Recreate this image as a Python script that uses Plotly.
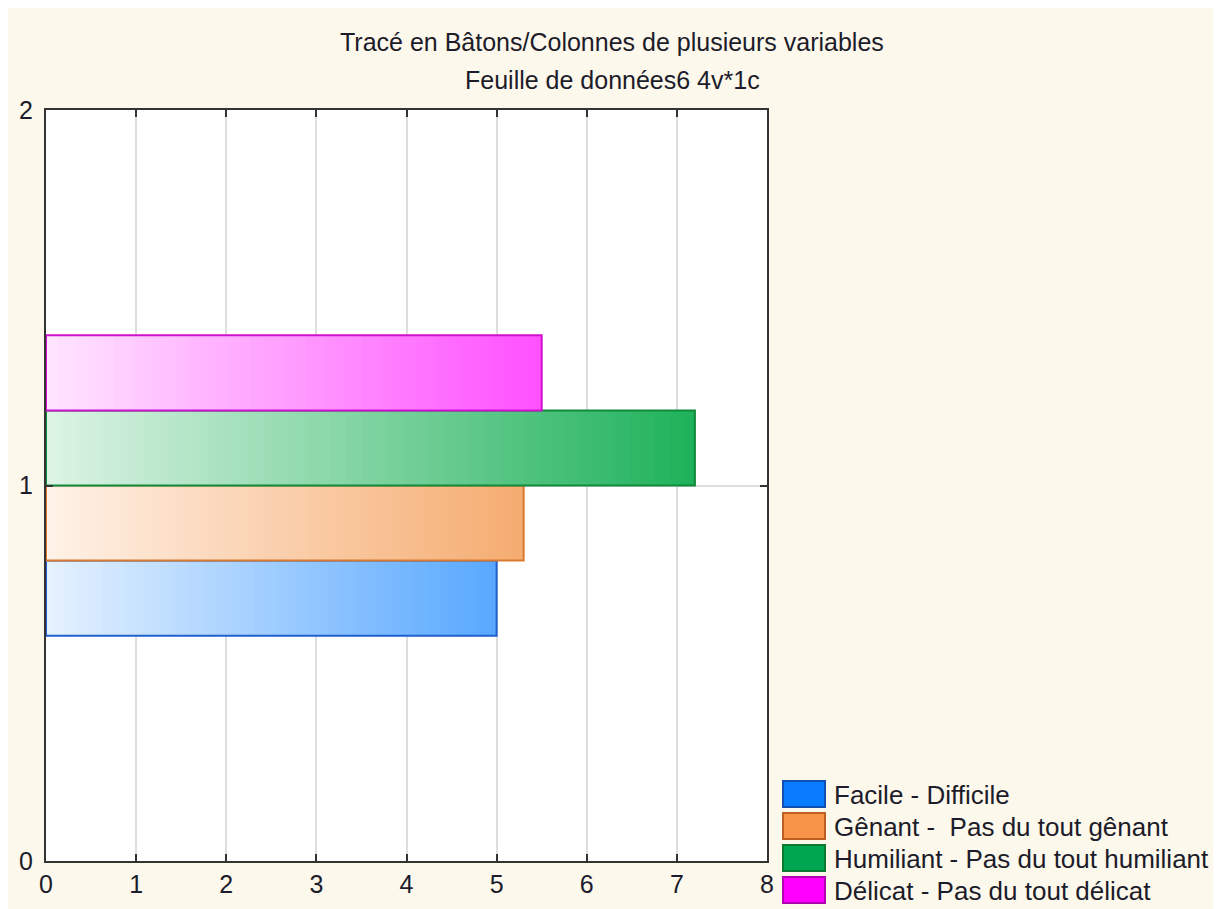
import plotly.graph_objects as go

# ---- data ----
series_names = ["Facile - Difficile", "Gênant -  Pas du tout gênant",
                "Humiliant - Pas du tout humiliant", "Délicat - Pas du tout délicat"]
series_values = [5.0, 5.3, 7.2, 5.5]
category = 1
x_ticks = [0, 1, 2, 3, 4, 5, 6, 7, 8]
y_ticks = [0, 1, 2]
title_lines = ["Tracé en Bâtons/Colonnes de plusieurs variables", "Feuille de données6 4v*1c"]

# ---- styles ----
grad_start = [(230, 242, 255), (255, 242, 232), (222, 244, 230), (255, 230, 255)]
grad_end = [(88, 168, 255), (245, 172, 112), (30, 178, 90), (255, 80, 255)]
outline = ["#1F5FD0", "#D87A30", "#108A3C", "#D010D0"]
legend_fill = ["#0A7CFF", "#F7944A", "#00A650", "#FF00FF"]
legend_line = ["#1050B0", "#C06020", "#0A7A30", "#B000B0"]
bar_w = 0.2
N = 80
BG = "#FDF8EC"
FONT = "Liberation Sans, Arial, sans-serif"
TXT = "#1C1C2A"
FS = 25
FS_LEG = 26

W, H = 1213, 901
OFF = 8  # page offset
L, R, T, B = 46 - OFF, 767 - OFF, 110 - OFF, 861 - OFF


def px(xi):
    return (xi - OFF - L) / (R - L)


def py(yi):
    return (B - (yi - OFF)) / (B - T)


fig = go.Figure()
for i, (name, v) in enumerate(zip(series_names, series_values)):
    yc = category + (i - 1.5) * bar_w
    seg = v / N
    cols = []
    for k in range(N):
        t = (k + 0.5) / N
        c = [round(grad_start[i][j] + (grad_end[i][j] - grad_start[i][j]) * t) for j in range(3)]
        cols.append(f"rgb({c[0]},{c[1]},{c[2]})")
    fig.add_trace(go.Bar(
        orientation="h", y=[yc] * N, x=[v - k * seg for k in range(N)],
        base=[k * seg for k in range(N)],
        width=bar_w, marker=dict(color=cols, line=dict(width=0)),
        showlegend=False, hoverinfo="skip"))
    fig.add_trace(go.Bar(
        orientation="h", y=[yc], x=[v], base=[0], width=bar_w, name=name,
        marker=dict(color="rgba(0,0,0,0)", line=dict(color=outline[i], width=2)),
        showlegend=False))

# manual legend
for i, name in enumerate(series_names):
    y0 = 781 + i * 32
    fig.add_shape(type="rect", xref="paper", yref="paper",
                  x0=px(783), x1=px(825), y0=py(y0 + 26), y1=py(y0),
                  fillcolor=legend_fill[i], line=dict(color=legend_line[i], width=2))
    fig.add_annotation(xref="paper", yref="paper", x=px(832), y=py(y0 + 14),
                       text=name, showarrow=False, xanchor="left", yanchor="middle",
                       font=dict(size=FS_LEG, color=TXT, family=FONT))

for line, yy in zip(title_lines, [42, 80]):
    fig.add_annotation(xref="paper", yref="paper", x=px(612), y=py(yy),
                       text=line, showarrow=False, xanchor="center", yanchor="middle",
                       font=dict(size=FS, color=TXT, family=FONT))

fig.update_layout(
    width=W, height=H, barmode="overlay",
    paper_bgcolor=BG, plot_bgcolor="white",
    margin=dict(l=L, r=W - R, t=T, b=H - B, autoexpand=False),
    showlegend=False,
    font=dict(family=FONT, size=FS, color=TXT),
)
fig.update_xaxes(range=[0, 8], tickvals=x_ticks, ticks="inside", ticklen=7, tickwidth=2,
                 tickcolor="#333", showline=True, linecolor="#333", linewidth=2, mirror="ticks",
                 showgrid=True, gridcolor="#DEDEDE", gridwidth=2, zeroline=False,
                 automargin=False,
                 tickfont=dict(size=FS, color=TXT, family=FONT))
fig.update_yaxes(range=[0, 2], tickvals=y_ticks, ticks="inside", ticklen=7, tickwidth=2,
                 tickcolor="#333", showline=True, linecolor="#333", linewidth=2, mirror="ticks",
                 showgrid=True, gridcolor="#DEDEDE", gridwidth=2, zeroline=False,
                 ticklabelstandoff=6, automargin=False,
                 tickfont=dict(size=FS, color=TXT, family=FONT))

fig.write_html("out.html")
